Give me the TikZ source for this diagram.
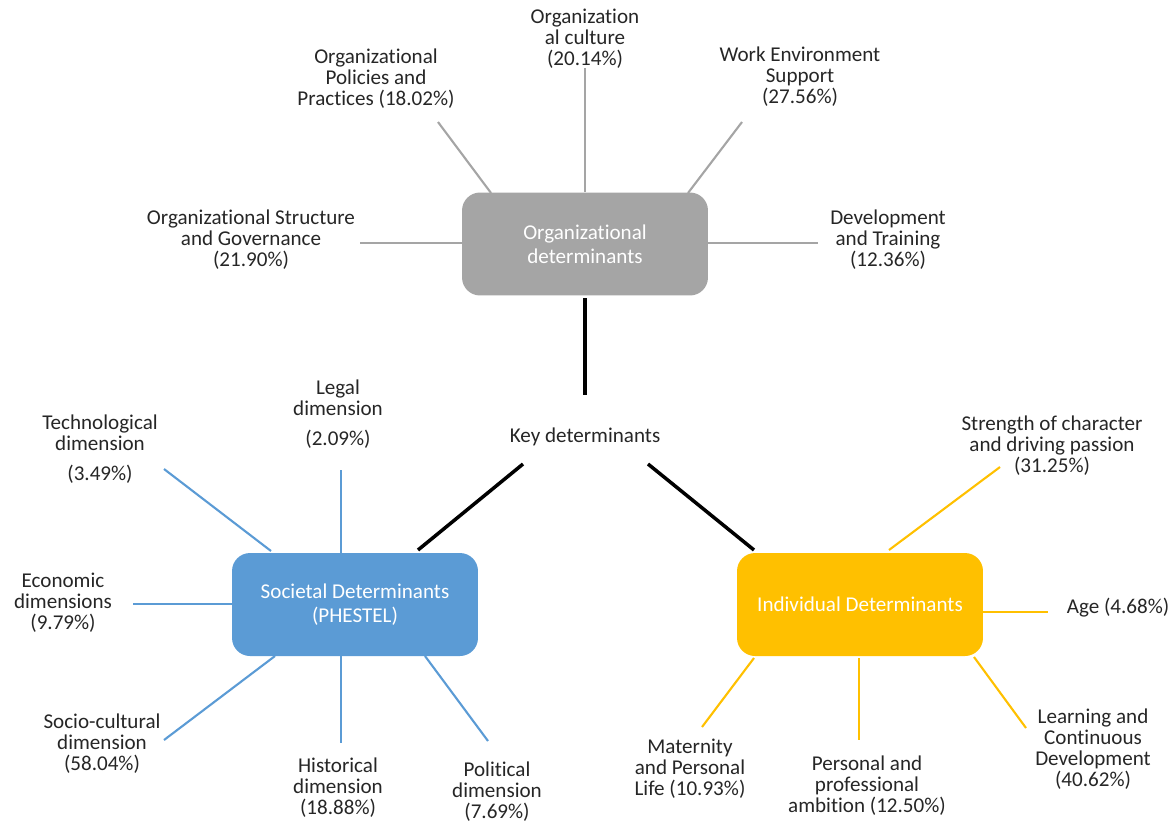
\documentclass[tikz,border=0pt]{standalone}
\usepackage{fontspec}
\setmainfont{Carlito}[Ligatures=NoCommon]
\begin{document}
\begin{tikzpicture}[x=0.02cm,y=-0.02cm,
  lbl/.style={align=center,inner sep=0pt,font=\fontsize{12}{11.9}\selectfont,text=black!85},
  boxa/.style={rounded corners=0.36cm,minimum width=4.92cm,minimum height=2.06cm,align=center,text=white,font=\fontsize{12}{13.5}\selectfont,inner sep=0pt},
  gspoke/.style={draw=gfill,line width=1.2pt},
  bspoke/.style={draw=bfill,line width=1.2pt},
  yspoke/.style={draw=yfill,line width=1.2pt},
  kspoke/.style={draw=black,line width=2pt}]
\definecolor{gfill}{HTML}{A5A5A5}
\definecolor{bfill}{HTML}{5B9BD5}
\definecolor{yfill}{HTML}{FFC000}
\useasboundingbox (0,0) rectangle (1175,822);

% main boxes
\node[boxa,fill=gfill] (org) at (585,244) {Organizational\\determinants};
\node[boxa,fill=bfill] (soc) at (355,604.5) {Societal Determinants\\(PHESTEL)};
\node[boxa,fill=yfill] (ind) at (860,604.5) {Individual Determinants};
\node[lbl,font=\fontsize{12}{13}\selectfont] (key) at (585,437) {Key determinants};

% black links
\coordinate (k1) at (585,395);
\coordinate (k2) at (523,464);
\coordinate (k3) at (648,464);
\draw[kspoke] (org.south |- 0,298) -- (k1);
\draw[kspoke] (k2) -- (418,550) coordinate (k2s);
\draw[kspoke] (k3) -- (754,550) coordinate (k3s);

% organizational labels
\node[lbl] (o1) at (251,240) {Organizational Structure\\and Governance\\(21.90\%)};
\node[lbl] (o2) at (376,79) {Organizational\\Policies and\\Practices (18.02\%)};
\node[lbl] (o3) at (585,38.5) {Organization\\al culture\\(20.14\%)};
\node[lbl] (o4) at (800,77) {Work Environment\\Support\\(27.56\%)};
\node[lbl] (o5) at (888,240) {Development\\and Training\\(12.36\%)};
\coordinate (oe1) at (360,243);
\coordinate (oe2) at (438,122);
\coordinate (oe3) at (585,68);
\coordinate (oe4) at (742,122);
\coordinate (oe5) at (818,243);
\draw[gspoke] (org.west |- 0,243) -- (oe1);
\draw[gspoke] (491,193) coordinate (os2) -- (oe2);
\draw[gspoke] (org.north) -- (oe3);
\draw[gspoke] (688,193) coordinate (os4) -- (oe4);
\draw[gspoke] (org.east |- 0,243) -- (oe5);

% societal labels
\node[lbl] (s1) at (100,449) {Technological\\dimension\\[5pt](3.49\%)};
\node[lbl] (s2) at (338,414) {Legal\\dimension\\[5pt](2.09\%)};
\node[lbl] (s3) at (63,603) {Economic\\dimensions\\(9.79\%)};
\node[lbl] (s4) at (102,744) {Socio-cultural\\dimension\\(58.04\%)};
\node[lbl] (s5) at (338,788) {Historical\\dimension\\(18.88\%)};
\node[lbl] (s6) at (497,791.5) {Political\\dimension\\(7.69\%)};
\coordinate (se1) at (164,469);
\coordinate (se2) at (341,470);
\coordinate (se3) at (133,604);
\coordinate (se4) at (164,740);
\coordinate (se5) at (341,743);
\coordinate (se6) at (488,741);
\draw[bspoke] (271,551) coordinate (ss1) -- (se1);
\draw[bspoke] (341,553) coordinate (ss2) -- (se2);
\draw[bspoke] (soc.west |- 0,604) -- (se3);
\draw[bspoke] (275,656) coordinate (ss4) -- (se4);
\draw[bspoke] (341,656) coordinate (ss5) -- (se5);
\draw[bspoke] (425,656) coordinate (ss6) -- (se6);

% individual labels
\node[lbl] (i1) at (1052,446) {Strength of character\\and driving passion\\(31.25\%)};
\node[lbl] (i2) at (1118,608) {Age (4.68\%)};
\node[lbl] (i3) at (1093,749) {Learning and\\Continuous\\Development\\(40.62\%)};
\node[lbl] (i4) at (867,786) {Personal and\\professional\\ambition (12.50\%)};
\node[lbl] (i5) at (690,769) {Maternity\\and Personal\\Life (10.93\%)};
\coordinate (ie1) at (1000,467);
\coordinate (ie2) at (1048,612);
\coordinate (ie3) at (1026,728);
\coordinate (ie4) at (859,740);
\coordinate (ie5) at (702,727);
\draw[yspoke] (889,550) coordinate (is1) -- (ie1);
\draw[yspoke] (ind.east |- 0,612) -- (ie2);
\draw[yspoke] (974,657) coordinate (is3) -- (ie3);
\draw[yspoke] (859,658) coordinate (is4) -- (ie4);
\draw[yspoke] (754,658) coordinate (is5) -- (ie5);
\end{tikzpicture}
\end{document}
